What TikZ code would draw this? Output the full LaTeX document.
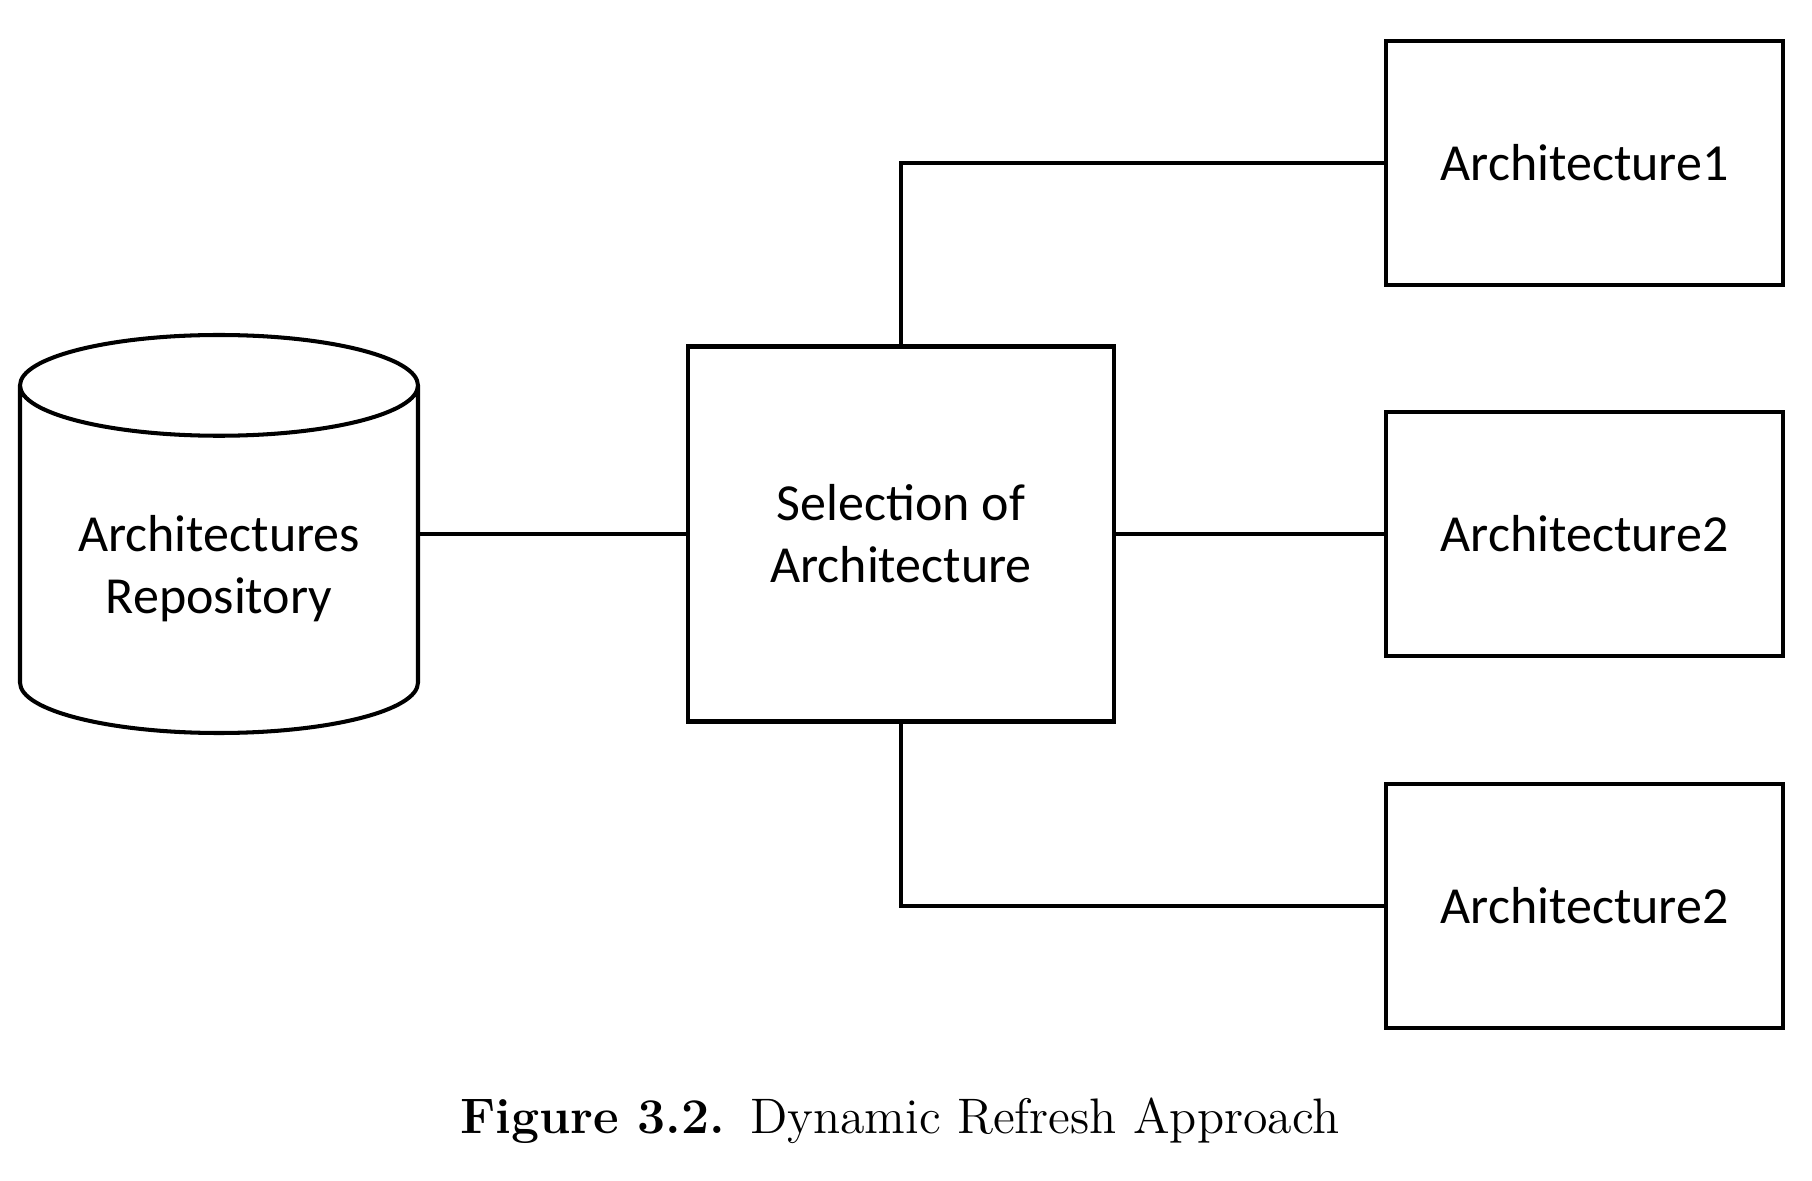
\documentclass[tikz,border=0pt]{standalone}
\usepackage{fontspec}
\newfontfamily\calibri{Carlito}
\usetikzlibrary{shapes.geometric}

\begin{document}
\begin{tikzpicture}
  \tikzstyle{box}=[rectangle, draw, line width=1.15pt, align=center,
    font=\calibri\fontsize{14.8}{17.6}\selectfont]
  \tikzstyle{arch}=[box, minimum width=3.97cm, minimum height=2.44cm]
  \tikzstyle{repo}=[box, cylinder, shape border rotate=90, aspect=0.33,
    minimum width=3.98cm, minimum height=3.98cm]
  \tikzstyle{link}=[line width=1.15pt]

  \useasboundingbox (0,0) rectangle (18.12,11.80);

  \node[repo, anchor=shape center] (repo) at (2.19, 6.46) {Architectures\\Repository};
  \node[box, minimum width=4.26cm, minimum height=3.75cm]
              (sel)  at (9.01,  6.46) {Selection of\\Architecture};
  \node[arch] (a1)   at (15.845, 10.17) {Architecture1};
  \node[arch] (a2)   at (15.845, 6.46)  {Architecture2};
  \node[arch] (a3)   at (15.845, 2.74)  {Architecture2};

  \path[link] (repo.east |- sel.west) edge (sel.west);
  \path[link] (sel) edge (a2);
  \draw[link] (sel.north) |- (a1.west);
  \draw[link] (sel.south) |- (a3.west);

  \node[anchor=base, font=\fontsize{14.2}{16}\selectfont] (cap) at (9.0, 0.47)
    {\textbf{Figure 3.2.}\hspace{0.5em}Dynamic Refresh Approach};
\end{tikzpicture}
\end{document}
